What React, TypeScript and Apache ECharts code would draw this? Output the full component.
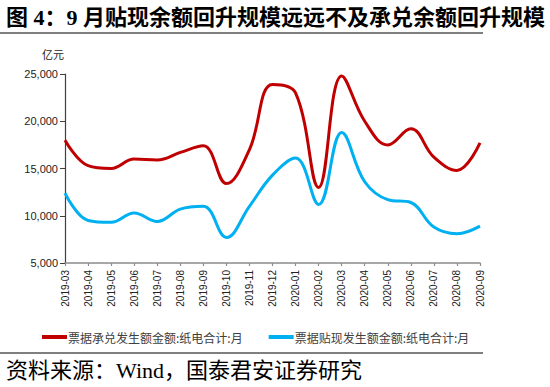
import React, { useEffect, useRef } from "react";
import * as echarts from "echarts";

const categories = [
  "2019-03", "2019-04", "2019-05", "2019-06", "2019-07", "2019-08", "2019-09", "2019-10",
  "2019-11", "2019-12", "2020-01", "2020-02", "2020-03", "2020-04", "2020-05", "2020-06",
  "2020-07", "2020-08", "2020-09",
];
const acceptance = [
  18000, 15300, 15000, 16000, 15900, 16700, 17400, 13400, 17000, 23900, 23000, 13000,
  24800, 20000, 17500, 19200, 16200, 14800, 17700,
];
const discount = [
  12400, 9500, 9300, 10300, 9400, 10700, 11000, 7700, 11000, 14300, 16100, 11200,
  18800, 13600, 11700, 11400, 8800, 8100, 8900,
];
const seriesNames = ["票据承兑发生额金额:纸电合计:月", "票据贴现发生额金额:纸电合计:月"];
const yTicks = { min: 5000, max: 25000, interval: 5000 };
const titleText = "图 4：9 月贴现余额回升规模远远不及承兑余额回升规模";
const unitText = "亿元";
const sourceText = "资料来源：Wind，国泰君安证券研究";

export default function App() {
  const ref = useRef<HTMLDivElement>(null);
  useEffect(() => {
    if (!ref.current) return;
    const chart = echarts.init(ref.current, undefined, { renderer: "svg" });
    chart.setOption({
      animation: false,
      backgroundColor: "#ffffff",
      textStyle: { fontFamily: "Liberation Sans, Noto Sans CJK SC" },
      grid: { left: 65, right: 70, top: 74, bottom: 124 },
      xAxis: {
        type: "category",
        data: categories,
        boundaryGap: false,
        axisLine: { lineStyle: { color: "#8c8c8c", width: 1.5 } },
        axisTick: { show: true, length: 3, lineStyle: { color: "#8c8c8c", width: 1.2 } },
        axisLabel: {
          rotate: 90,
          fontSize: 10,
          color: "#222",
          margin: 7,
          interval: 0,
          fontFamily: "Liberation Sans",
        },
        splitLine: { show: false },
      },
      yAxis: {
        type: "value",
        min: yTicks.min,
        max: yTicks.max,
        interval: yTicks.interval,
        axisLine: { show: true, lineStyle: { color: "#404040", width: 1.2 } },
        axisTick: { show: true, length: 5, lineStyle: { color: "#404040" } },
        axisLabel: {
          fontSize: 11,
          color: "#222",
          margin: 7,
          fontFamily: "Liberation Sans",
          formatter: (v: number) => v.toLocaleString("en-US"),
        },
        splitLine: { show: false },
      },
      legend: {
        left: 37,
        top: 326,
        itemWidth: 25,
        itemHeight: 4,
        itemGap: 26,
        icon: "rect",
        textStyle: { fontSize: 12, color: "#404040", fontFamily: "Noto Sans CJK SC", padding: [0, 0, 0, -4] },
        data: seriesNames,
      },
      series: [
        {
          name: seriesNames[0],
          type: "line",
          data: acceptance,
          smooth: 0.4,
          symbol: "none",
          lineStyle: { color: "#C00000", width: 3 },
          itemStyle: { color: "#C00000" },
        },
        {
          name: seriesNames[1],
          type: "line",
          data: discount,
          smooth: 0.4,
          symbol: "none",
          lineStyle: { color: "#00B0F0", width: 3 },
          itemStyle: { color: "#00B0F0" },
        },
      ],
      graphic: [
        {
          type: "text",
          left: 6,
          top: 6,
          style: {
            text: titleText,
            fontSize: 22,
            fontWeight: "bold",
            fill: "#000",
            fontFamily: "Liberation Serif, Noto Sans CJK SC",
          },
        },
        {
          type: "line",
          shape: { x1: 0, y1: 33, x2: 483, y2: 33 },
          style: { stroke: "#7f7f7f", lineWidth: 2 },
        },
        {
          type: "text",
          left: 42,
          top: 48,
          style: { text: unitText, fontSize: 11, fill: "#222", fontFamily: "Noto Sans CJK SC" },
        },
        {
          type: "line",
          shape: { x1: 0, y1: 353, x2: 483, y2: 353 },
          style: { stroke: "#7f7f7f", lineWidth: 2 },
        },
        {
          type: "text",
          left: 6,
          top: 359,
          style: {
            text: sourceText,
            fontSize: 22,
            fill: "#000",
            fontFamily: "Liberation Serif, Noto Sans CJK SC",
          },
        },
      ],
    });
    return () => chart.dispose();
  }, []);
  return <div ref={ref} style={{ width: 550, height: 387, position: "absolute", left: 0, top: 0 }} />;
}
